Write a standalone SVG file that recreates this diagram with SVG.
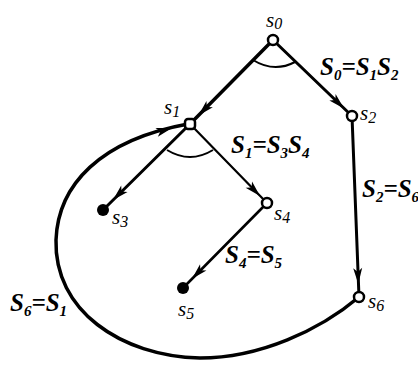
<svg xmlns="http://www.w3.org/2000/svg" width="418" height="365" viewBox="0 0 418 365">
<defs>
<style>
.edge{fill:none;stroke:#000;stroke-linecap:round}
.and{fill:none;stroke:#000;stroke-width:2}
.open{fill:#fff;stroke:#000;stroke-width:2.5}
.term{fill:#000}
.nl{font-family:"Liberation Serif",serif;font-style:italic;font-size:21px;fill:#000}
.nl .sub{font-size:16px}
.eq{font-family:"Liberation Serif",serif;font-style:italic;font-weight:bold;font-size:25px;fill:#000}
.eq .sub{font-size:15px}
</style>
<path id="ah" d="M0,0 L-16,-4.5 L-12,0 L-16,4.5 Z" fill="#000"/>
</defs>
<rect width="418" height="365" fill="#fff"/>
<g id="connectors">
<line class="edge" x1="273" y1="40" x2="190" y2="124" stroke-width="3.5"/>
<line class="edge" x1="273" y1="40" x2="352" y2="116" stroke-width="3"/>
<line class="edge" x1="190" y1="124" x2="103" y2="210" stroke-width="3"/>
<line class="edge" x1="190" y1="124" x2="267" y2="203" stroke-width="2.2"/>
<line class="edge" x1="352" y1="116" x2="359" y2="297" stroke-width="3"/>
<line class="edge" x1="267" y1="203" x2="183" y2="288" stroke-width="2.6"/>
<path class="edge" stroke-width="3.5" d="M359,297 C320,330 260,358 200,358 C120,356 54,310 56,240 C58,185 100,140 188,124"/>
<path class="and" d="M253,60 Q274,73 295,62"/>
<path class="and" d="M167,150 Q190,164 213,150"/>
<use href="#ah" transform="translate(198.4,115.5) rotate(134.7)"/>
<use href="#ah" transform="translate(344,108.4) rotate(43.9)"/>
<use href="#ah" transform="translate(113,200) rotate(135.3)"/>
<use href="#ah" transform="translate(260,196) rotate(45.7)"/>
<use href="#ah" transform="translate(358.3,284) rotate(87.8)"/>
<use href="#ah" transform="translate(192,278.8) rotate(134.7)"/>
<use href="#ah" transform="translate(172,128) rotate(-16)"/>
</g>
<g id="s0"><circle class="open" cx="273" cy="40" r="5"/><text class="nl" x="266" y="27">s<tspan class="sub" dy="2">0</tspan></text></g>
<g id="s1"><rect class="open" x="185" y="119" width="10" height="10" rx="3"/><text class="nl" x="164" y="114">s<tspan class="sub" dy="3">1</tspan></text></g>
<g id="s2"><circle class="open" cx="352" cy="116" r="5"/><text class="nl" x="360" y="120">s<tspan class="sub" dy="3">2</tspan></text></g>
<g id="s3"><circle class="term" cx="103" cy="210" r="6"/><text class="nl" x="112" y="224">s<tspan class="sub" dy="3">3</tspan></text></g>
<g id="s4"><circle class="open" cx="267" cy="203" r="5"/><text class="nl" x="274" y="220">s<tspan class="sub" dy="3">4</tspan></text></g>
<g id="s5"><circle class="term" cx="183" cy="288" r="6"/><text class="nl" x="178" y="316">s<tspan class="sub" dy="3">5</tspan></text></g>
<g id="s6"><circle class="open" cx="359" cy="297" r="5"/><text class="nl" x="368" y="308">s<tspan class="sub" dy="3">6</tspan></text></g>
<g id="labels">
<text class="eq" x="320" y="75">S<tspan class="sub" dy="5">0</tspan><tspan dy="-5">=</tspan>S<tspan class="sub" dy="5">1</tspan><tspan dy="-5">S</tspan><tspan class="sub" dy="5">2</tspan></text>
<text class="eq" x="231" y="153">S<tspan class="sub" dy="5">1</tspan><tspan dy="-5">=</tspan>S<tspan class="sub" dy="5">3</tspan><tspan dy="-5">S</tspan><tspan class="sub" dy="5">4</tspan></text>
<text class="eq" x="362" y="197">S<tspan class="sub" dy="5">2</tspan><tspan dy="-5">=</tspan>S<tspan class="sub" dy="5">6</tspan></text>
<text class="eq" x="225" y="263">S<tspan class="sub" dy="5">4</tspan><tspan dy="-5">=</tspan>S<tspan class="sub" dy="5">5</tspan></text>
<text class="eq" x="10" y="311">S<tspan class="sub" dy="5">6</tspan><tspan dy="-5">=</tspan>S<tspan class="sub" dy="5">1</tspan></text>
</g>
</svg>
